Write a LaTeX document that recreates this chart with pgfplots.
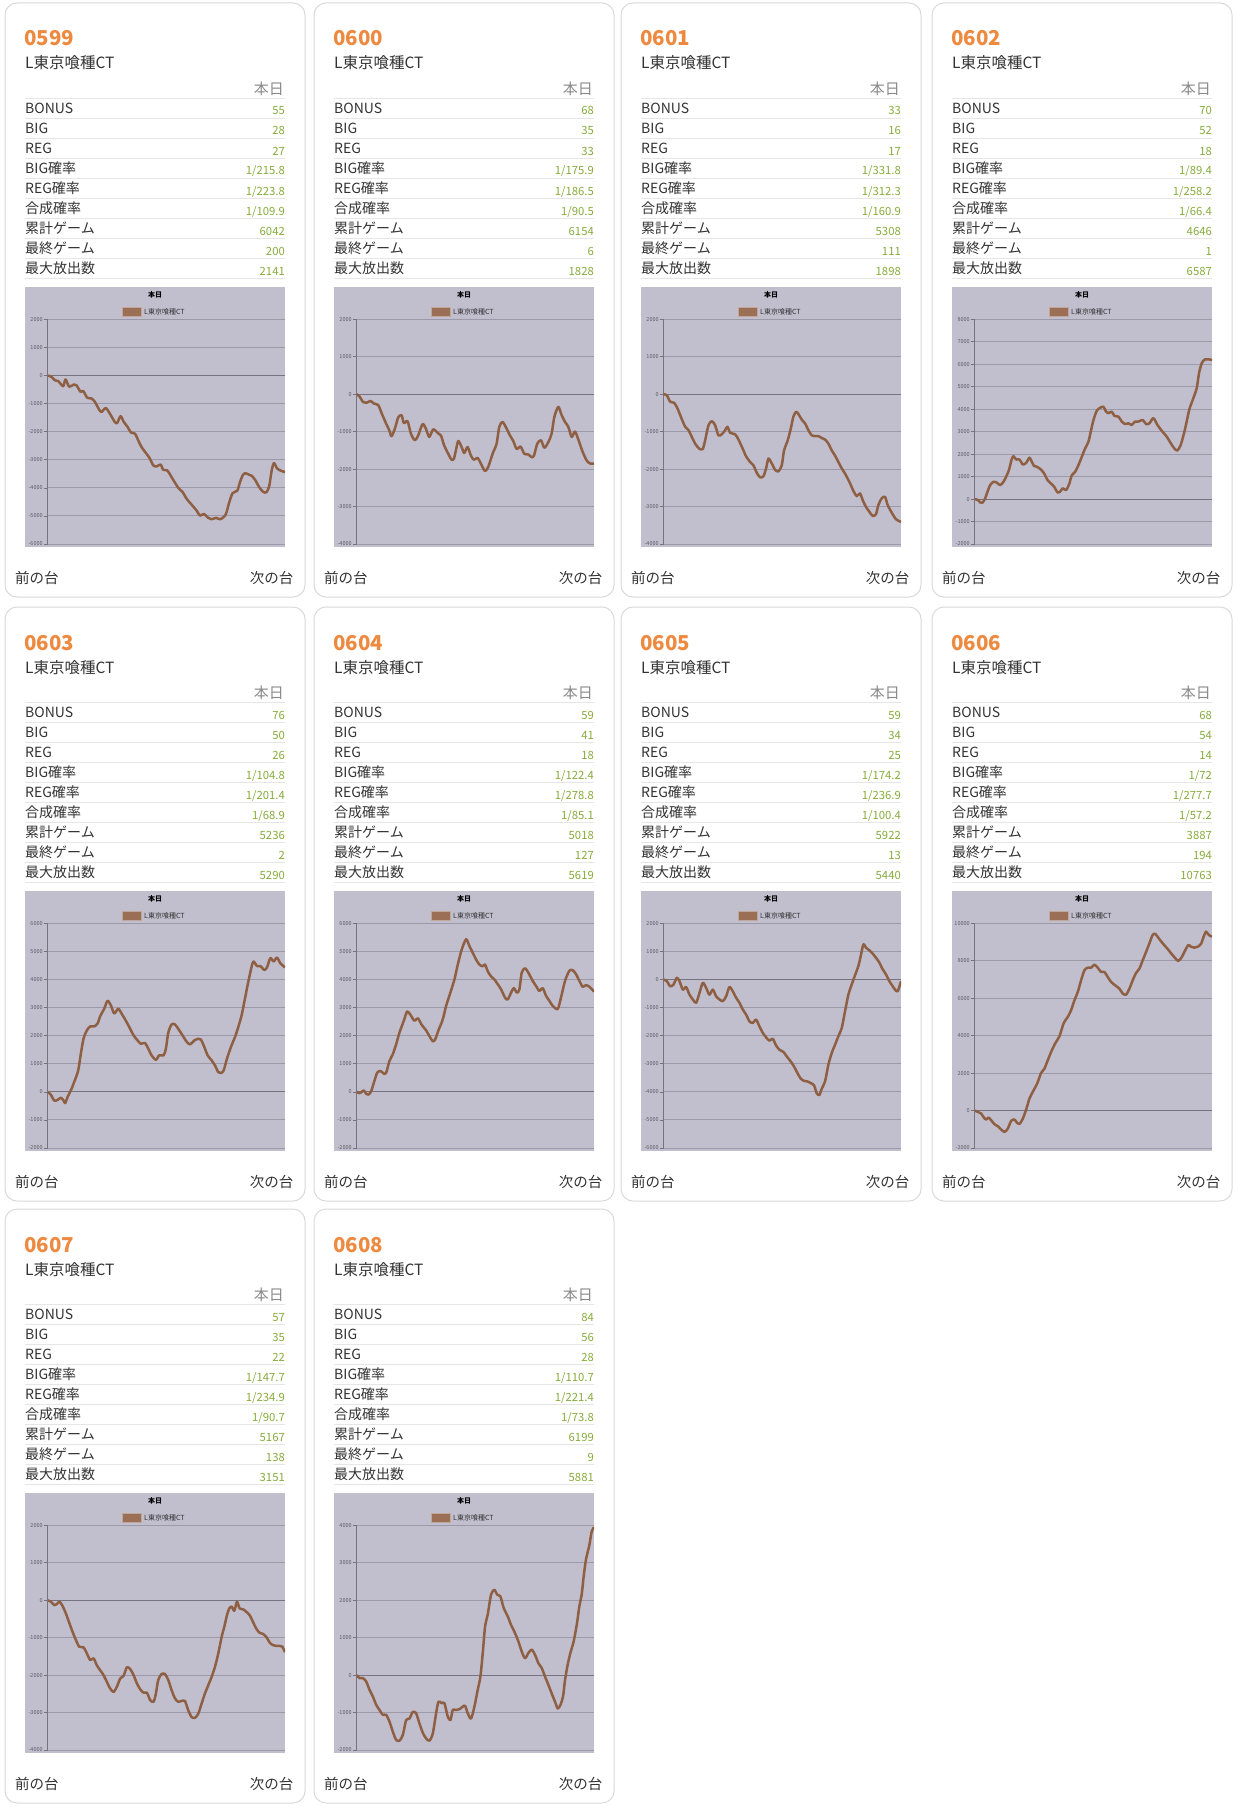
\documentclass[border=0pt]{standalone}
\usepackage{fontspec}
\setmainfont{Noto Sans CJK JP}
\usepackage{pgfplots}
\usepackage{pgfplotstable}
\pgfplotsset{compat=1.18}

\definecolor{cardline}{HTML}{DADADA}
\definecolor{titleor}{HTML}{EE8940}
\definecolor{txt}{HTML}{333333}
\definecolor{hdr}{HTML}{8A8A8A}
\definecolor{sepc}{HTML}{E6E6E6}
\definecolor{valc}{HTML}{86AC3C}
\definecolor{chartbg}{HTML}{C1BECD}
\definecolor{gridc}{HTML}{9C99AB}
\definecolor{zeroc}{HTML}{76737F}
\definecolor{tickc}{HTML}{5E5C66}
\definecolor{linec}{HTML}{8F5F43}

% slump data (x = pixel position, y = value)
\pgfplotstableread{
x y
143 0
155 -50
165 -170
175 -200
190 -380
197 -140
208 -400
222 -320
230 -350
242 -580
250 -550
262 -790
275 -820
285 -940
300 -1260
305 -1300
318 -1160
330 -1360
345 -1660
352 -1690
362 -1450
372 -1660
383 -1830
393 -2030
405 -2070
415 -2310
425 -2550
440 -2790
450 -2960
460 -3200
470 -3240
482 -3170
490 -3360
502 -3380
515 -3620
535 -4000
548 -4150
560 -4390
575 -4600
590 -4810
600 -4990
612 -4930
625 -5070
635 -5120
648 -5070
660 -5120
670 -5050
678 -4930
688 -4510
698 -4190
712 -4100
720 -3800
728 -3560
735 -3480
745 -3520
755 -3570
765 -3710
778 -3980
790 -4150
800 -4150
808 -3920
815 -3380
822 -3120
832 -3320
845 -3400
855 -3440
}\dA

\pgfplotstableread{
x y
140 0
148 -50
160 -210
170 -230
182 -180
192 -250
205 -290
215 -500
228 -770
238 -960
245 -1120
255 -920
265 -620
275 -560
282 -770
293 -720
303 -1050
315 -1230
325 -1100
338 -800
348 -920
358 -1140
370 -940
383 -1030
393 -1100
403 -1370
415 -1590
425 -1750
432 -1720
438 -1500
445 -1250
455 -1410
463 -1570
473 -1410
483 -1640
492 -1750
503 -1700
512 -1840
525 -2050
535 -1940
548 -1590
560 -1320
568 -870
578 -740
590 -920
600 -1100
610 -1250
620 -1460
632 -1400
643 -1590
655 -1610
665 -1680
672 -1640
682 -1320
693 -1230
703 -1430
715 -1280
725 -1050
733 -610
745 -340
755 -560
765 -740
775 -870
785 -1140
795 -1000
805 -1210
818 -1540
830 -1770
840 -1850
852 -1850
}\dB

\pgfplotstableread{
x y
130 0
140 -30
150 -200
162 -230
172 -380
182 -600
195 -870
205 -960
215 -1140
225 -1320
238 -1460
248 -1460
255 -1230
265 -830
275 -720
285 -830
295 -1100
305 -1070
315 -960
322 -870
330 -1030
345 -1070
355 -1210
368 -1460
378 -1660
390 -1810
400 -1900
410 -2100
420 -2220
430 -2190
438 -1980
445 -1720
455 -1850
465 -2020
475 -2060
485 -1900
492 -1500
503 -1230
512 -920
520 -600
528 -470
535 -530
545 -680
555 -780
565 -960
575 -1100
585 -1120
595 -1120
605 -1170
615 -1210
625 -1320
635 -1500
645 -1640
655 -1810
665 -1980
675 -2120
688 -2340
700 -2580
710 -2720
720 -2650
728 -2830
738 -3010
748 -3140
758 -3250
768 -3200
775 -2960
785 -2780
795 -2740
803 -2960
815 -3160
828 -3340
843 -3410
}\dC

\pgfplotstableread{
x y
133 0
143 -40
150 -150
157 -160
165 30
172 330
180 620
190 770
200 730
210 620
220 770
230 1060
237 1320
244 1740
250 1910
258 1760
268 1760
278 1540
288 1610
298 1840
305 1660
312 1470
320 1440
332 1320
342 1140
352 850
362 700
372 550
382 300
390 330
398 480
408 400
418 700
425 1060
435 1210
445 1510
455 1880
465 2250
475 2550
482 3000
490 3510
500 3930
510 4060
520 4110
528 3890
535 3820
545 3890
553 3700
565 3670
575 3450
585 3340
595 3370
605 3300
615 3450
625 3450
638 3520
648 3340
658 3370
670 3600
682 3300
695 3040
710 2780
722 2490
732 2270
742 2160
752 2410
762 2930
770 3450
778 4000
788 4410
800 4930
807 5600
815 6040
825 6220
835 6220
846 6190
}\dD

\pgfplotstableread{
x y
140 0
150 -100
160 -310
170 -290
180 -210
188 -310
193 -400
200 -190
210 50
220 350
232 760
240 1360
248 1890
258 2190
268 2330
280 2330
290 2430
298 2690
310 2960
320 3240
330 3080
340 2790
352 2960
362 2790
373 2570
385 2310
398 2010
410 1830
420 1710
432 1740
442 1540
452 1300
465 1140
475 1300
488 1300
495 1540
502 2100
512 2400
522 2400
535 2190
548 1950
558 1770
568 1690
580 1830
592 1890
600 1860
610 1600
620 1300
632 1120
642 940
652 700
660 670
668 760
678 1180
690 1600
702 1950
712 2310
722 2730
732 3320
742 3920
752 4460
758 4640
768 4480
778 4480
790 4340
798 4430
808 4760
818 4640
828 4780
838 4580
852 4430
}\dE

\pgfplotstableread{
x y
136 0
145 -50
152 0
158 50
165 -70
172 -100
180 20
188 320
198 680
208 740
218 650
225 680
235 1100
245 1340
255 1690
265 2110
278 2530
288 2860
298 2740
310 2530
320 2620
332 2380
345 2190
355 1980
365 1800
372 1860
382 2190
395 2580
405 3060
418 3540
430 4000
440 4530
452 5070
465 5430
475 5190
485 4950
495 4710
505 4530
515 4470
522 4530
530 4290
540 4110
550 4000
560 3830
570 3650
582 3350
590 3290
600 3530
608 3690
618 3530
625 3650
632 4240
642 4400
652 4240
665 3950
675 3770
685 3590
695 3690
705 3420
715 3240
725 3060
740 2950
750 3360
762 3950
775 4310
785 4330
795 4190
805 3950
815 3740
825 3800
835 3740
849 3570
}\dF

\pgfplotstableread{
x y
130 0
140 -60
150 -240
160 -180
170 60
178 -60
188 -360
198 -270
208 -540
218 -710
228 -830
238 -480
248 -120
258 -300
268 -540
278 -360
288 -600
298 -710
308 -770
318 -600
328 -270
338 -420
348 -650
358 -830
368 -1070
378 -1250
388 -1490
398 -1550
408 -1430
418 -1670
428 -1900
438 -2060
448 -2180
458 -2110
468 -2350
478 -2500
490 -2580
500 -2740
512 -2920
522 -3100
532 -3330
542 -3530
552 -3610
562 -3630
572 -3690
582 -3770
590 -4050
598 -4110
605 -3890
615 -3630
625 -3030
635 -2620
645 -2320
655 -2020
665 -1730
675 -1130
685 -540
695 -180
705 150
715 480
722 830
730 1250
738 1130
748 1040
758 920
768 770
778 600
788 360
798 180
808 -60
818 -240
825 -360
833 -420
843 -60
}\dG

\pgfplotstableread{
x y
130 0
140 -70
150 -160
158 -370
165 -480
172 -370
180 -520
190 -730
200 -840
210 -1010
220 -1140
230 -960
240 -550
250 -480
258 -660
266 -700
275 -430
285 50
295 640
305 1000
318 1440
330 2010
340 2240
350 2690
360 3130
372 3580
385 3970
398 4680
410 5000
420 5360
430 5890
440 6330
450 6960
460 7490
470 7630
480 7630
490 7790
500 7630
510 7400
520 7400
530 7130
540 6870
552 6690
565 6510
575 6250
585 6190
595 6510
605 6960
615 7350
625 7580
635 8030
645 8470
655 8930
665 9380
673 9430
683 9200
695 8930
708 8670
720 8400
733 8130
742 7990
752 8190
762 8540
772 8840
780 8750
790 8700
800 8750
810 8900
818 9290
825 9560
833 9380
843 9290
}\dH

\pgfplotstableread{
x y
140 0
150 -40
160 -130
168 -100
176 -40
185 -150
195 -350
205 -600
215 -840
225 -1060
235 -1240
248 -1260
258 -1420
268 -1600
278 -1550
288 -1740
298 -1870
308 -2000
318 -2180
328 -2360
338 -2450
348 -2310
358 -2090
368 -2020
378 -1790
388 -1840
398 -2000
408 -2220
418 -2380
428 -2470
438 -2470
448 -2670
458 -2710
465 -2490
472 -2130
482 -1970
492 -1970
502 -2130
512 -2400
522 -2620
532 -2710
542 -2690
552 -2690
562 -2940
572 -3120
582 -3140
592 -3030
602 -2760
612 -2490
622 -2270
632 -2050
642 -1780
652 -1420
662 -980
670 -710
678 -400
685 -220
692 -170
700 -280
708 -40
716 -220
726 -240
736 -310
746 -400
756 -580
766 -760
776 -870
786 -900
796 -980
806 -1130
816 -1200
826 -1220
836 -1220
844 -1240
852 -1390
}\dI

\pgfplotstableread{
x y
136 0
145 -80
155 -80
165 -170
175 -390
185 -570
195 -790
205 -930
215 -1060
225 -1060
235 -1240
245 -1510
255 -1730
265 -1750
275 -1600
285 -1200
295 -1160
305 -980
315 -1020
325 -1290
335 -1540
345 -1690
355 -1750
365 -1560
375 -1020
382 -710
392 -750
400 -750
410 -1110
418 -1200
425 -930
433 -930
445 -910
455 -840
462 -820
470 -1020
480 -1160
490 -840
500 -390
508 -40
515 590
522 1300
530 1620
540 2150
550 2280
558 2150
568 2100
578 1790
590 1570
600 1340
612 1120
622 900
632 630
642 450
652 590
662 680
672 540
682 320
692 190
702 -40
712 -260
722 -490
732 -710
740 -890
748 -800
756 -570
762 -130
770 280
778 590
788 900
798 1390
805 1840
812 2150
818 2640
825 3090
835 3470
842 3830
849 3950
}\dJ

% card frame, header and stats table; #1 dx, #2 dy, #3 number, #4 values
\newcommand\card[4]{%
\begin{scope}[shift={(#1pt,-#2pt)},x=1pt,y=-1pt]
  \draw[cardline,line width=1pt,rounded corners=12pt] (5,3) rectangle (305,597);
  \node[anchor=base west,inner sep=0pt,text=titleor,font=\fontsize{20.5}{22}\bfseries] at (24,46) {#3};
  \node[anchor=base west,inner sep=0pt,text=txt,font=\fontsize{15.5}{17}\selectfont] at (25,69) {L東京喰種CT};
  \node[anchor=base east,inner sep=0pt,text=hdr,font=\fontsize{15}{17}\selectfont] at (284,94.3) {本日};
  \foreach \k in {0,...,9}
    \draw[sepc,line width=1pt] (25,98.3+20*\k) -- (285,98.3+20*\k);
  \foreach \lab [count=\k from 0] in {BONUS,BIG,REG,BIG確率,REG確率,合成確率,累計ゲーム,最終ゲーム,最大放出数}
    \node[anchor=base west,inner sep=0pt,text=txt,font=\fontsize{14}{16}\selectfont] at (25,113.3+20*\k) {\lab};
  \foreach \v [count=\k from 0] in {#4}
    \node[anchor=base east,inner sep=0pt,text=valc,font=\fontsize{11.3}{13}\selectfont] at (285,115+20*\k) {\v};
  \fill[chartbg] (25,287) rectangle (285,547);
  \node[text=black,font=\fontsize{7}{8}\bfseries,inner sep=0pt] at (155,295) {本日};
  \fill[linec!90!white,draw=linec!55!white,line width=0.6pt] (122,307.7) rectangle (141.7,316);
  \node[anchor=west,inner sep=0pt,text=txt,font=\fontsize{7}{8}\selectfont] at (144,312) {L東京喰種CT};
  \node[anchor=west,inner sep=0pt,text=txt,font=\fontsize{14.5}{16}\selectfont] at (15,577.5) {前の台};
  \node[anchor=east,inner sep=0pt,text=txt,font=\fontsize{14.5}{16}\selectfont] at (293.5,577.5) {次の台};
\end{scope}}

% slump chart; #1 dx, #2 dy, #3 ymin, #4 ymax, #5 step, #6 xmin, #7 xmax, #8 table
\newcommand\chart[8]{%
\begin{scope}[shift={(#1pt,-#2pt)}]
\begin{axis}[
  at={(47.5pt,-319.3pt)}, anchor=north west,
  scale only axis, width=237.5pt, height=224.7pt,
  xmin=#6, xmax=#7, ymin=#3, ymax=#4, ytick distance=#5,
  scaled y ticks=false,
  axis x line=none, axis y line*=left, axis line style={-,zeroc,line width=0.8pt},
  xtick=\empty,
  ymajorgrids, grid style={gridc,line width=1pt},
  tick align=outside, major tick length=4pt,
  ytick style={zeroc,line width=0.6pt},
  yticklabel style={font=\fontsize{5.5}{6}\selectfont,text=tickc,inner sep=0.6pt},
  /pgf/number format/.cd, 1000 sep={}, assume math mode=true,
]
\draw[zeroc,line width=1pt] (axis cs:#6,0) -- (axis cs:#7,0);
\addplot[linec,line width=2.5pt,smooth,tension=0.45,no marks,line join=round] table {#8};
\end{axis}
\end{scope}}

\begin{document}
\begin{tikzpicture}
\fill[white] (0pt,0pt) rectangle (1236pt,-1809pt);

\card{0}{0}{0599}{55,28,27,1/215.8,1/223.8,1/109.9,6042,200,2141}
\card{309}{0}{0600}{68,35,33,1/175.9,1/186.5,1/90.5,6154,6,1828}
\card{616}{0}{0601}{33,16,17,1/331.8,1/312.3,1/160.9,5308,111,1898}
\card{927}{0}{0602}{70,52,18,1/89.4,1/258.2,1/66.4,4646,1,6587}
\card{0}{604}{0603}{76,50,26,1/104.8,1/201.4,1/68.9,5236,2,5290}
\card{309}{604}{0604}{59,41,18,1/122.4,1/278.8,1/85.1,5018,127,5619}
\card{616}{604}{0605}{59,34,25,1/174.2,1/236.9,1/100.4,5922,13,5440}
\card{927}{604}{0606}{68,54,14,1/72,1/277.7,1/57.2,3887,194,10763}
\card{0}{1206}{0607}{57,35,22,1/147.7,1/234.9,1/90.7,5167,138,3151}
\card{309}{1206}{0608}{84,56,28,1/110.7,1/221.4,1/73.8,6199,9,5881}

\chart{0}{0}{-6000}{2000}{1000}{143}{855}{\dA}
\chart{309}{0}{-4000}{2000}{1000}{140}{852}{\dB}
\chart{616}{0}{-4000}{2000}{1000}{130}{843}{\dC}
\chart{927}{0}{-2000}{8000}{1000}{133}{846}{\dD}
\chart{0}{604}{-2000}{6000}{1000}{140}{852}{\dE}
\chart{309}{604}{-2000}{6000}{1000}{136}{849}{\dF}
\chart{616}{604}{-6000}{2000}{1000}{130}{843}{\dG}
\chart{927}{604}{-2000}{10000}{2000}{130}{843}{\dH}
\chart{0}{1206}{-4000}{2000}{1000}{140}{852}{\dI}
\chart{309}{1206}{-2000}{4000}{1000}{136}{849}{\dJ}
\end{tikzpicture}
\end{document}
